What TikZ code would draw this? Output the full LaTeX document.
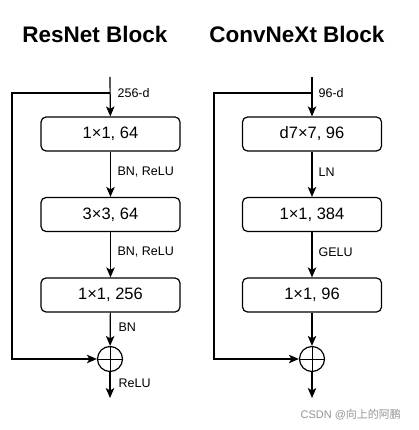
\documentclass[tikz,border=0pt]{standalone}
\usepackage{fontspec}
\setmainfont{Liberation Sans}
\newfontfamily\cjkfont{Noto Sans CJK SC}
\usetikzlibrary{arrows.meta}
\begin{document}
\begin{tikzpicture}[x=1pt,y=-1pt,
  line width=1.2pt,
  arr/.style={-{Stealth[length=10pt,width=8.5pt,inset=2.5pt]}},
  layer/.style={draw,rounded corners=5pt,minimum width=139pt,minimum height=34pt,inner sep=0pt,font=\fontsize{16.5}{18}\selectfont},
  lbl/.style={anchor=west,inner sep=0pt,font=\fontsize{12.5}{14}\selectfont},
  ttl/.style={anchor=base,inner sep=0pt,font=\fontsize{22.5}{26}\selectfont\bfseries},
  sumnode/.style={draw,circle,minimum size=25pt,inner sep=0pt,
    path picture={\draw[line width=1pt] (path picture bounding box.north) -- (path picture bounding box.south)
      (path picture bounding box.west) -- (path picture bounding box.east);}}
]
\useasboundingbox (0,0) rectangle (419,430);

% ---------- ResNet ----------
\node[ttl] (tA) at (95,43) {ResNet Block};
\coordinate (inA) at (110,77);
\coordinate (jA) at (110,93);
\coordinate (lA) at (12,93);
\node[layer] (a1) at (110.5,134) {1×1, 64};
\node[layer] (a2) at (110.5,214.5) {3×3, 64};
\node[layer] (a3) at (110.5,295) {1×1, 256};
\node[sumnode] (sA) at (110,359) {};
\coordinate (oA) at (110,398);

\draw[arr] (inA) -- (a1);
\draw[arr] (jA) -- (lA) |- (sA.west);
\draw[arr] (a1) -- (a2);
\draw[arr] (a2) -- (a3);
\draw[arr] (a3) -- (sA);
\draw[arr] (sA) -- (oA);

\node[lbl] (la0) at (117,93) {256-d};
\node[lbl] (la1) at (117,172) {BN, ReLU};
\node[lbl] (la2) at (117,252) {BN, ReLU};
\node[lbl] (la3) at (118,327.5) {BN};
\node[lbl] (la4) at (118,383) {ReLU};

% ---------- ConvNeXt ----------
\node[ttl] (tB) at (297,43) {ConvNeXt Block};
\coordinate (inB) at (312,77);
\coordinate (jB) at (312,93);
\coordinate (lB) at (214,93);
\node[layer] (b1) at (312,134) {d7×7, 96};
\node[layer] (b2) at (312,214.5) {1×1, 384};
\node[layer] (b3) at (312,295) {1×1, 96};
\node[sumnode] (sB) at (312,359) {};
\coordinate (oB) at (312,398);

\draw[arr] (inB) -- (b1);
\draw[arr] (jB) -- (lB) |- (sB.west);
\draw[arr] (b1) -- (b2);
\draw[arr] (b2) -- (b3);
\draw[arr] (b3) -- (sB);
\draw[arr] (sB) -- (oB);

\node[lbl] (lb0) at (318,93) {96-d};
\node[lbl] (lb1) at (318,172) {LN};
\node[lbl] (lb2) at (318,252) {GELU};

% watermark
\node[anchor=west,inner sep=0pt,text=black!42,font=\fontsize{11}{13}\selectfont] (wm) at (300,415) {CSDN @{\cjkfont 向上的阿鹏}};
\end{tikzpicture}
\end{document}
